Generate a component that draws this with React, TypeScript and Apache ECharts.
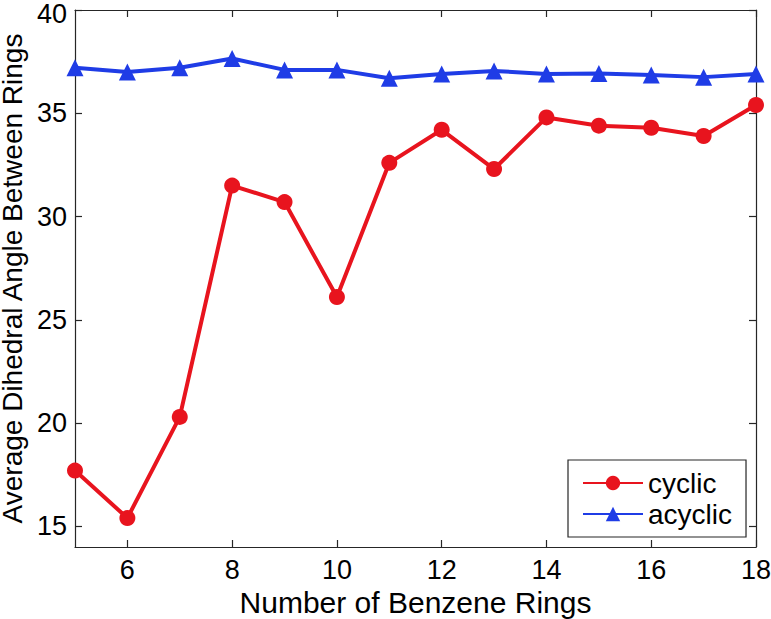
import React, { useEffect, useRef } from "react";
import * as echarts from "echarts";

const rings = [5, 6, 7, 8, 9, 10, 11, 12, 13, 14, 15, 16, 17, 18];
const cyclic = [17.7, 15.4, 20.3, 31.5, 30.7, 26.1, 32.6, 34.2, 32.3, 34.8, 34.4, 34.3, 33.9, 35.4];
const acyclic = [37.2, 37.0, 37.2, 37.65, 37.1, 37.1, 36.7, 36.9, 37.05, 36.9, 36.93, 36.85, 36.75, 36.9];
const xTicks = [6, 8, 10, 12, 14, 16, 18];
const yTicks = [15, 20, 25, 30, 35, 40];

const FONT = "'Liberation Sans', Arial, sans-serif";
const RED = "#e8141e";
const BLUE = "#1f3ce6";
const AXIS = "#262626";

export default function App() {
  const ref = useRef<HTMLDivElement>(null);
  useEffect(() => {
    if (!ref.current) return;
    const chart = echarts.init(ref.current, null, { renderer: "svg" });
    const axisLine = { show: true, lineStyle: { color: AXIS, width: 1.2 } };
    const tick = (show: boolean, vals: number[]) => ({
      show,
      inside: true,
      length: 7,
      customValues: vals,
      lineStyle: { color: AXIS, width: 1.2 },
    });
    const yMax = yTicks[yTicks.length - 1];
    chart.setOption({
      animation: false,
      backgroundColor: "#ffffff",
      grid: {
        left: 75,
        top: 10,
        right: 15,
        bottom: 72,
        containLabel: false,
        outerBoundsMode: "none",
      },
      legend: {
        orient: "vertical",
        left: 568,
        top: 460,
        padding: [9, 14, 9, 14],
        itemGap: 3,
        itemWidth: 60,
        itemHeight: 18,
        backgroundColor: "#ffffff",
        borderColor: AXIS,
        borderWidth: 1.2,
        borderRadius: 0,
        textStyle: { fontFamily: FONT, fontSize: 28, color: "#000", lineHeight: 28 },
        data: ["cyclic", "acyclic"],
      },
      xAxis: [
        {
          type: "value",
          min: 5,
          max: 18,
          position: "bottom",
          name: "Number of Benzene Rings",
          nameLocation: "middle",
          nameGap: 36,
          nameTextStyle: { fontFamily: FONT, fontSize: 30, color: "#000" },
          axisLine,
          axisTick: tick(true, xTicks),
          axisLabel: {
            customValues: xTicks,
            fontFamily: FONT,
            fontSize: 27,
            color: "#000",
            margin: 9,
          },
          splitLine: { show: false },
        },
        {
          type: "value",
          min: 5,
          max: 18,
          position: "top",
          axisLine,
          axisTick: tick(true, xTicks),
          axisLabel: { show: false },
          splitLine: { show: false },
        },
      ],
      yAxis: [
        {
          type: "value",
          min: 14,
          max: 40,
          position: "left",
          name: "Average Dihedral Angle Between Rings",
          nameLocation: "middle",
          nameGap: 40,
          nameTextStyle: { fontFamily: FONT, fontSize: 28, color: "#000", lineHeight: 28 },
          axisLine,
          axisTick: tick(true, yTicks),
          axisLabel: {
            customValues: yTicks,
            fontFamily: FONT,
            fontSize: 27,
            lineHeight: 20,
            color: "#000",
            margin: 8,
            formatter: (v: number) => (v === yMax ? `{top|${v}}` : `${v}`),
            rich: {
              top: { fontFamily: FONT, fontSize: 27, lineHeight: 20, color: "#000", padding: [8, 0, 0, 0] },
            },
          },
          splitLine: { show: false },
        },
        {
          type: "value",
          min: 14,
          max: 40,
          position: "right",
          axisLine,
          axisTick: tick(true, yTicks),
          axisLabel: { show: false },
          splitLine: { show: false },
        },
      ],
      series: [
        {
          name: "cyclic",
          type: "line",
          data: rings.map((r, i) => [r, cyclic[i]]),
          symbol: "circle",
          symbolSize: 16,
          lineStyle: { color: RED, width: 4 },
          itemStyle: { color: RED },
          z: 3,
        },
        {
          name: "acyclic",
          type: "line",
          data: rings.map((r, i) => [r, acyclic[i]]),
          symbol: "triangle",
          symbolSize: 17,
          lineStyle: { color: BLUE, width: 4 },
          itemStyle: { color: BLUE },
          z: 3,
        },
      ],
    });
    return () => chart.dispose();
  }, []);
  return <div ref={ref} style={{ width: 771, height: 619, position: "absolute", left: 0, top: 0 }} />;
}
